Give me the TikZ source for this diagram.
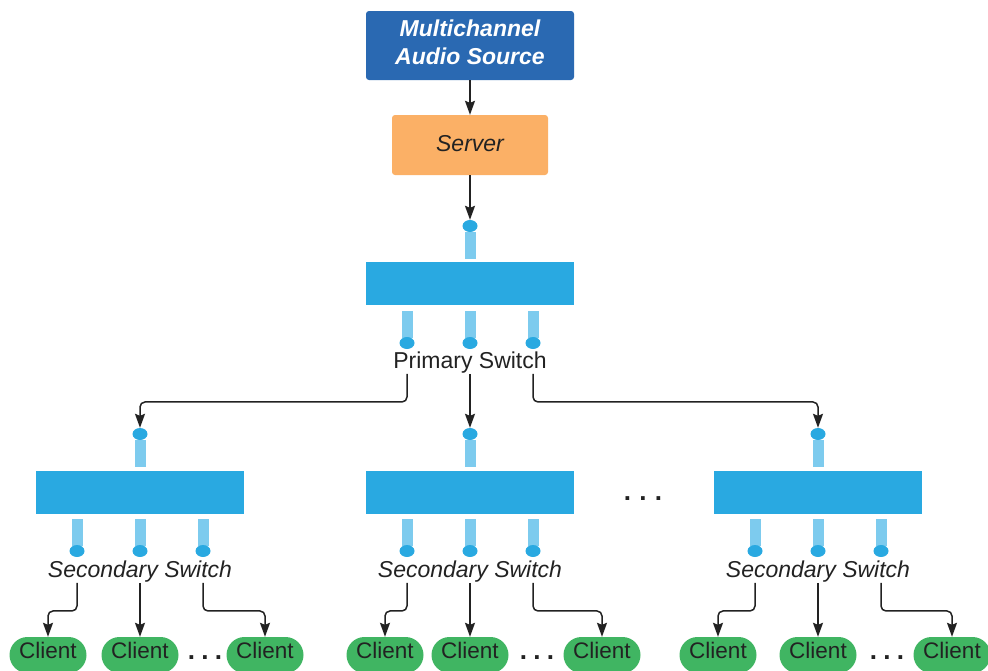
\documentclass[tikz,border=0pt]{standalone}
\usepackage{fontspec}
\setmainfont{Liberation Sans}
\usetikzlibrary{arrows.meta,shapes.geometric}
\definecolor{srcblue}{HTML}{2A69B2}
\definecolor{srvorange}{HTML}{FBB066}
\definecolor{swblue}{HTML}{29A9E1}
\definecolor{stubblue}{HTML}{7DCBEE}
\definecolor{clgreen}{HTML}{40B562}
\definecolor{txt}{HTML}{222222}
\tikzset{
  box/.style={rounded corners=3pt, align=center, inner sep=0pt, font=\fontsize{23}{27}\selectfont},
  switchbox/.style={fill=swblue, minimum width=208pt, minimum height=43pt, inner sep=0pt},
  stub/.style={fill=stubblue, minimum width=11pt, minimum height=27pt, inner sep=0pt},
  port/.style={ellipse, fill=swblue, minimum width=15pt, minimum height=12pt, inner sep=0pt},
  swlabel/.style={text=txt, anchor=base, inner sep=1pt, font=\fontsize{23}{27}\selectfont},
  client/.style={fill=clgreen, rounded corners=18pt, minimum width=77pt, minimum height=36pt, text depth=10pt, inner sep=0pt, text=txt, font=\fontsize{22.5}{27}\selectfont},
  moredots/.style={text=txt, inner sep=0pt, font=\bfseries\fontsize{26}{27}\selectfont},
  link/.style={line width=1.5pt, draw=txt, rounded corners=5pt, -{Stealth[length=14pt,width=10pt,inset=2pt]}}
}
\begin{document}
\begin{tikzpicture}[x=1pt,y=-1pt]
  \useasboundingbox (0,0) rectangle (988,670);
  \node[box, fill=srcblue, text=white, font=\bfseries\itshape\fontsize{23}{27.5}\selectfont, minimum width=208pt, minimum height=69pt, text depth=7pt] (src) at (470,45.5) {Multichannel\\Audio Source}; % Fuente
  \node[box, fill=srvorange, text=txt, font=\itshape\fontsize{23}{27}\selectfont, minimum width=156pt, minimum height=60pt, text depth=4pt] (srv) at (470,145) {Server}; % Servidor
  \draw[link] (src) -- (srv);
  % Conmutador principal
  \node[stub] (pin) at (470.5,245) {};
  \node[port] (pdot) at (470,226) {};
  \node[switchbox] (psw) at (470,283.5) {};
  \node[stub] at (407,324) {};
  \node[stub] at (470,324) {};
  \node[stub] at (533,324) {};
  \node[port] (pd1) at (407,343) {};
  \node[port] (pd2) at (470,343) {};
  \node[port] (pd3) at (533,343) {};
  \node[swlabel] (plab) at (470,368) {Primary Switch};
  \draw[link] (srv) -- (pdot);
  % Conmutadores secundarios
  \foreach \n/\x/\cl/\cr/\dx in {a/140/48/265/205, b/470/385/602/537, c/818/718/952/887}{
    \node[stub] at (\x,453.5) {};
    \node[port] (\n dot) at (\x,434) {};
    \node[switchbox] (\n sw) at (\x,492.5) {};
    \node[stub] at ({\x-63},532.5) {};
    \node[stub] at (\x,532.5) {};
    \node[stub] at ({\x+63},532.5) {};
    \node[port] (\n d1) at ({\x-63},551) {};
    \node[port] (\n d2) at (\x,551) {};
    \node[port] (\n d3) at ({\x+63},551) {};
    \node[swlabel, font=\itshape\fontsize{23}{27}\selectfont] (\n lab) at (\x,577) {Secondary Switch};
    \node[client] (\n c1) at (\cl,655) {Client};
    \node[client] (\n c2) at (\x,655) {Client};
    \node[client] (\n c3) at (\cr,655) {Client};
    \node[moredots] at (\dx,658) {.\hspace{6.3pt}.\hspace{6.3pt}.};
    \draw[link] (\n lab.south -| \n d1) -- ++(0,28) -| (\n c1.north);
    \draw[link] (\n lab.south -| \n d2) -- (\n c2.north);
    \draw[link] (\n lab.south -| \n d3) -- ++(0,28) -| (\n c3.north);
  }
  \node[moredots] at (643,499) {.\hspace{8.3pt}.\hspace{8.3pt}.}; % Otros
  \draw[link] (plab.south -| pd1) -- ++(0,28) -| (adot.north);
  \draw[link] (plab.south -| pd2) -- (bdot.north);
  \draw[link] (plab.south -| pd3) -- ++(0,28) -| (cdot.north);
\end{tikzpicture}
\end{document}
